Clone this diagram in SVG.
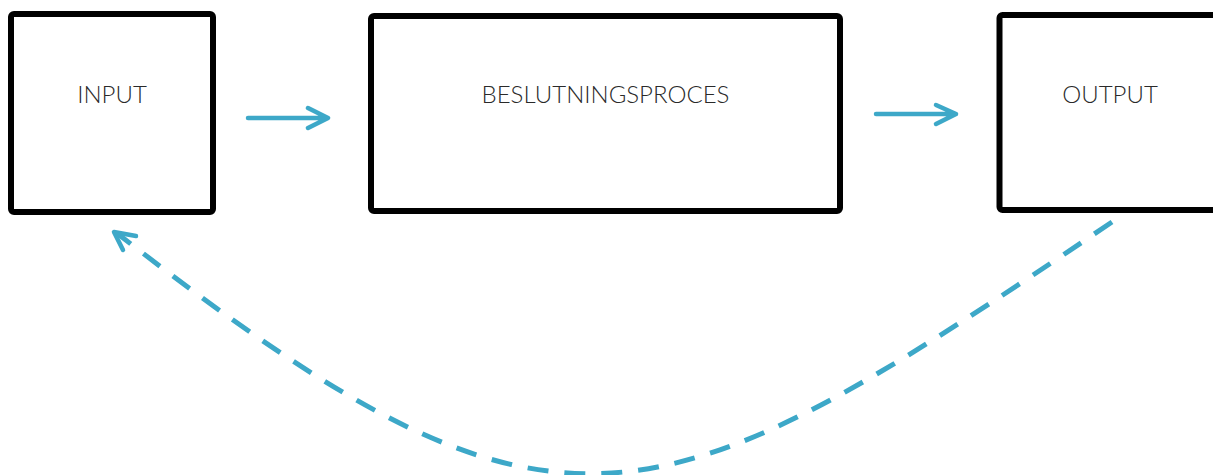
<svg xmlns="http://www.w3.org/2000/svg" width="1213" height="475" viewBox="0 0 1213 475">
<style>
.box{fill:#fff;stroke:#000;stroke-width:6}
.lbl{font-family:Lato,"Open Sans","Liberation Sans",sans-serif;font-weight:300;font-size:24px;fill:#2a2a2a;text-anchor:middle}
.arr{fill:none;stroke:#3DA8C8;stroke-width:4.5;stroke-linecap:round;stroke-linejoin:round}
.dash{fill:none;stroke:#3DA8C8;stroke-width:5;stroke-dasharray:21 16}
</style>
<rect width="1213" height="475" fill="#fff"/>
<g id="input">
<rect class="box" x="11" y="14" width="202" height="198" rx="3"/>
<text class="lbl" x="112" y="103">INPUT</text>
</g>
<g id="beslutningsproces">
<rect class="box" x="371" y="16" width="469" height="195" rx="3"/>
<text class="lbl" x="605.5" y="103">BESLUTNINGSPROCES</text>
</g>
<g id="output">
<rect class="box" x="999.5" y="15" width="240" height="195" rx="3"/>
<text class="lbl" x="1110" y="103">OUTPUT</text>
</g>
<g id="connectors">
<path class="arr" d="M248 118 H327 M308 108 L328 118 L308 128"/>
<path class="arr" d="M876 114 H956 M936 105 L956 114 L936 124"/>
<path class="dash" d="M1112 222 C650 534 558 576 118 234"/>
<path class="arr" d="M123 250 L114 232 L136 236"/>
</g>
</svg>
